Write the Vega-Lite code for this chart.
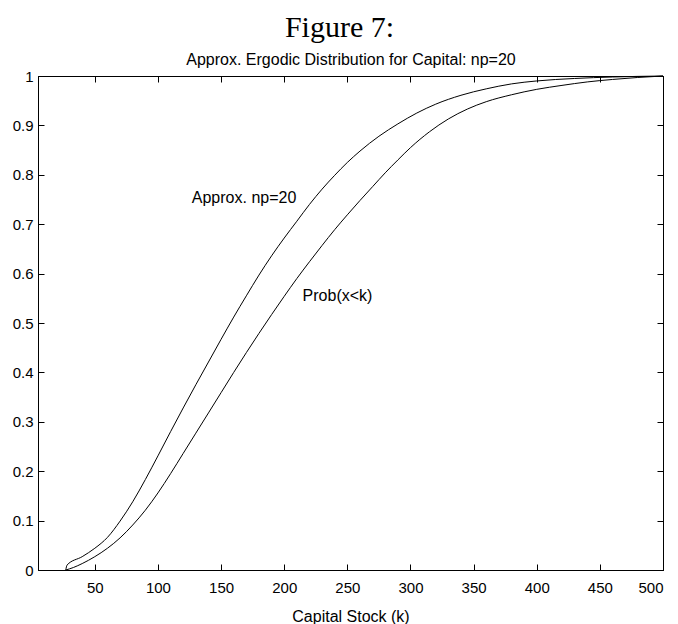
{
  "$schema": "https://vega.github.io/schema/vega-lite/v6.json",
  "autosize": "none",
  "width": 625,
  "height": 494,
  "padding": {"left": 38, "top": 76, "right": 15, "bottom": 54},
  "background": "white",
  "title": {
    "text": "Figure 7:",
    "font": "Liberation Serif",
    "fontSize": 30,
    "fontWeight": "normal",
    "color": "black",
    "anchor": "middle",
    "dx": -11,
    "offset": 8
  },
  "datasets": {
    "curves": [
      {"k": 27, "p": 0.0, "series": "Approx. np=20"},
      {"k": 28, "p": 0.01, "series": "Approx. np=20"},
      {"k": 40, "p": 0.027, "series": "Approx. np=20"},
      {"k": 50, "p": 0.044, "series": "Approx. np=20"},
      {"k": 60, "p": 0.066, "series": "Approx. np=20"},
      {"k": 70, "p": 0.099, "series": "Approx. np=20"},
      {"k": 80, "p": 0.138, "series": "Approx. np=20"},
      {"k": 90, "p": 0.183, "series": "Approx. np=20"},
      {"k": 100, "p": 0.231, "series": "Approx. np=20"},
      {"k": 110, "p": 0.28, "series": "Approx. np=20"},
      {"k": 120, "p": 0.328, "series": "Approx. np=20"},
      {"k": 130, "p": 0.375, "series": "Approx. np=20"},
      {"k": 140, "p": 0.421, "series": "Approx. np=20"},
      {"k": 150, "p": 0.467, "series": "Approx. np=20"},
      {"k": 160, "p": 0.512, "series": "Approx. np=20"},
      {"k": 170, "p": 0.555, "series": "Approx. np=20"},
      {"k": 180, "p": 0.597, "series": "Approx. np=20"},
      {"k": 190, "p": 0.636, "series": "Approx. np=20"},
      {"k": 200, "p": 0.672, "series": "Approx. np=20"},
      {"k": 210, "p": 0.706, "series": "Approx. np=20"},
      {"k": 220, "p": 0.74, "series": "Approx. np=20"},
      {"k": 230, "p": 0.771, "series": "Approx. np=20"},
      {"k": 240, "p": 0.799, "series": "Approx. np=20"},
      {"k": 250, "p": 0.825, "series": "Approx. np=20"},
      {"k": 260, "p": 0.848, "series": "Approx. np=20"},
      {"k": 275, "p": 0.878, "series": "Approx. np=20"},
      {"k": 290, "p": 0.903, "series": "Approx. np=20"},
      {"k": 305, "p": 0.925, "series": "Approx. np=20"},
      {"k": 320, "p": 0.943, "series": "Approx. np=20"},
      {"k": 340, "p": 0.961, "series": "Approx. np=20"},
      {"k": 360, "p": 0.974, "series": "Approx. np=20"},
      {"k": 380, "p": 0.984, "series": "Approx. np=20"},
      {"k": 400, "p": 0.99, "series": "Approx. np=20"},
      {"k": 430, "p": 0.995, "series": "Approx. np=20"},
      {"k": 460, "p": 0.998, "series": "Approx. np=20"},
      {"k": 500, "p": 1.0, "series": "Approx. np=20"},
      {"k": 27, "p": 0.0, "series": "Prob(x<k)"},
      {"k": 33, "p": 0.005, "series": "Prob(x<k)"},
      {"k": 40, "p": 0.013, "series": "Prob(x<k)"},
      {"k": 50, "p": 0.027, "series": "Prob(x<k)"},
      {"k": 60, "p": 0.044, "series": "Prob(x<k)"},
      {"k": 70, "p": 0.065, "series": "Prob(x<k)"},
      {"k": 80, "p": 0.091, "series": "Prob(x<k)"},
      {"k": 90, "p": 0.121, "series": "Prob(x<k)"},
      {"k": 100, "p": 0.156, "series": "Prob(x<k)"},
      {"k": 110, "p": 0.195, "series": "Prob(x<k)"},
      {"k": 120, "p": 0.236, "series": "Prob(x<k)"},
      {"k": 130, "p": 0.277, "series": "Prob(x<k)"},
      {"k": 140, "p": 0.318, "series": "Prob(x<k)"},
      {"k": 150, "p": 0.359, "series": "Prob(x<k)"},
      {"k": 160, "p": 0.4, "series": "Prob(x<k)"},
      {"k": 170, "p": 0.44, "series": "Prob(x<k)"},
      {"k": 180, "p": 0.479, "series": "Prob(x<k)"},
      {"k": 190, "p": 0.517, "series": "Prob(x<k)"},
      {"k": 200, "p": 0.554, "series": "Prob(x<k)"},
      {"k": 210, "p": 0.59, "series": "Prob(x<k)"},
      {"k": 220, "p": 0.624, "series": "Prob(x<k)"},
      {"k": 230, "p": 0.657, "series": "Prob(x<k)"},
      {"k": 240, "p": 0.689, "series": "Prob(x<k)"},
      {"k": 250, "p": 0.719, "series": "Prob(x<k)"},
      {"k": 260, "p": 0.748, "series": "Prob(x<k)"},
      {"k": 270, "p": 0.776, "series": "Prob(x<k)"},
      {"k": 280, "p": 0.804, "series": "Prob(x<k)"},
      {"k": 290, "p": 0.83, "series": "Prob(x<k)"},
      {"k": 300, "p": 0.855, "series": "Prob(x<k)"},
      {"k": 315, "p": 0.887, "series": "Prob(x<k)"},
      {"k": 330, "p": 0.913, "series": "Prob(x<k)"},
      {"k": 345, "p": 0.933, "series": "Prob(x<k)"},
      {"k": 360, "p": 0.948, "series": "Prob(x<k)"},
      {"k": 380, "p": 0.962, "series": "Prob(x<k)"},
      {"k": 400, "p": 0.973, "series": "Prob(x<k)"},
      {"k": 420, "p": 0.981, "series": "Prob(x<k)"},
      {"k": 440, "p": 0.988, "series": "Prob(x<k)"},
      {"k": 460, "p": 0.993, "series": "Prob(x<k)"},
      {"k": 480, "p": 0.997, "series": "Prob(x<k)"},
      {"k": 500, "p": 1.0, "series": "Prob(x<k)"}
    ],
    "labels": [
      {"k": 168.2, "p": 0.753, "label": "Approx. np=20"},
      {"k": 242.2, "p": 0.555, "label": "Prob(x<k)"}
    ]
  },
  "layer": [
    {
      "data": {"name": "curves"},
      "mark": {"type": "line", "color": "black", "strokeWidth": 1, "interpolate": "monotone"},
      "encoding": {
        "x": {
          "field": "k", "type": "quantitative",
          "scale": {"domain": [5, 500], "nice": false, "zero": false},
          "axis": {
            "orient": "bottom",
            "values": [50, 100, 150, 200, 250, 300, 350, 400, 450, 500],
            "title": "Capital Stock (k)",
            "titleY": 51,
            "titleBaseline": "alphabetic",
            "labelPadding": 16
          }
        },
        "y": {
          "field": "p", "type": "quantitative",
          "scale": {"domain": [0, 1], "nice": false},
          "axis": {
            "orient": "left",
            "values": [0, 0.1, 0.2, 0.3, 0.4, 0.5, 0.6, 0.7, 0.8, 0.9, 1],
            "title": null,
            "labelPadding": 11,
            "labelExpr": "datum.value === 0 ? '0' : datum.value === 1 ? '1' : format(datum.value, '.1f')"
          }
        },
        "detail": {"field": "series", "type": "nominal"}
      }
    },
    {
      "data": {"name": "labels"},
      "mark": {"type": "text", "font": "Liberation Sans", "fontSize": 16, "color": "black", "align": "center", "baseline": "middle"},
      "encoding": {
        "x": {
          "field": "k", "type": "quantitative",
          "axis": {
            "orient": "top",
            "values": [50, 100, 150, 200, 250, 300, 350, 400, 450, 500],
            "labels": false,
            "title": "Approx. Ergodic Distribution for Capital: np=20",
            "titleY": -12,
            "titleBaseline": "alphabetic"
          }
        },
        "y": {
          "field": "p", "type": "quantitative",
          "axis": {
            "orient": "right",
            "values": [0, 0.1, 0.2, 0.3, 0.4, 0.5, 0.6, 0.7, 0.8, 0.9, 1],
            "labels": false,
            "title": null
          }
        },
        "text": {"field": "label", "type": "nominal"}
      }
    }
  ],
  "resolve": {"axis": {"x": "independent", "y": "independent"}},
  "config": {
    "view": {"stroke": "black", "strokeWidth": 1},
    "axis": {
      "grid": false,
      "domainColor": "black",
      "domainWidth": 1,
      "tickColor": "black",
      "tickWidth": 1,
      "tickSize": -6,
      "labelColor": "black",
      "labelFont": "Liberation Sans",
      "labelFontSize": 15,
      "titleColor": "black",
      "titleFont": "Liberation Sans",
      "titleFontSize": 16,
      "titleFontWeight": "normal"
    }
  }
}
